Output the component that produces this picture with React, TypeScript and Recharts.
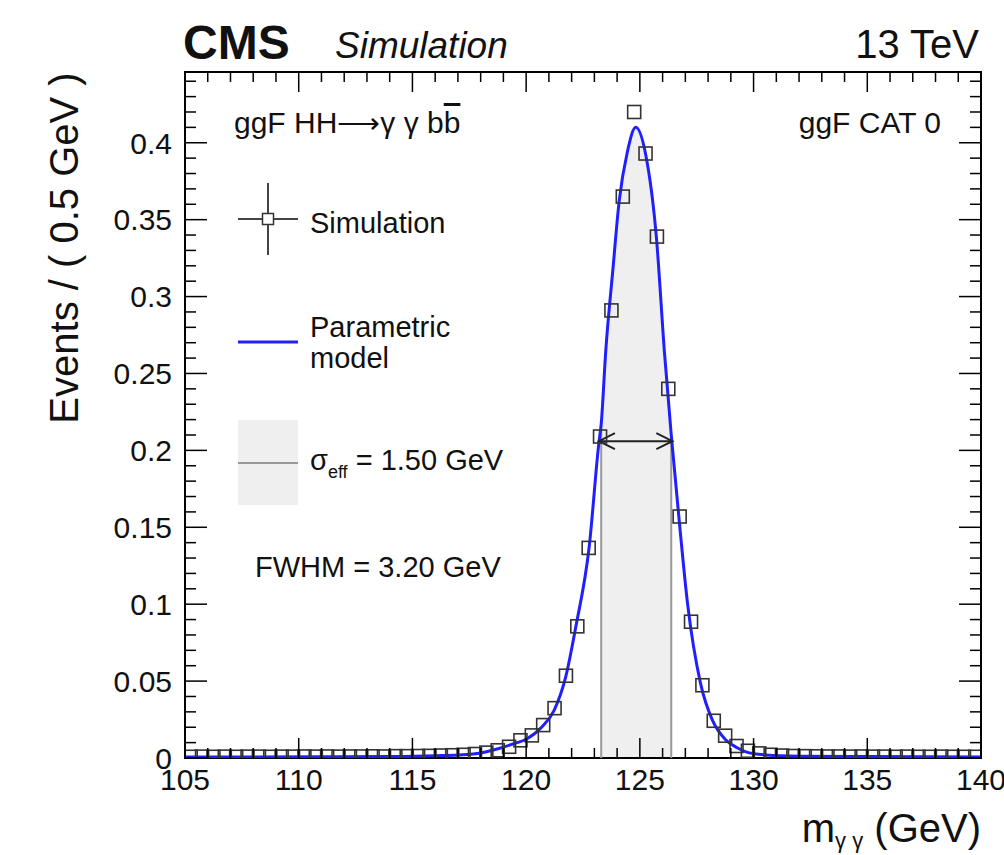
import {
  ComposedChart,
  Line,
  Area,
  Scatter,
  XAxis,
  YAxis,
  ReferenceLine,
  ReferenceArea,
} from "recharts";

const FONT = '"Liberation Sans", Arial, Helvetica, sans-serif';

// chart geometry
const W = 1004;
const H = 855;
const MARGIN = { top: 72, right: 23, bottom: 37, left: 105 };
const Y_AXIS_W = 80;
const X_AXIS_H = 60;
const PLOT_RIGHT = W - MARGIN.right;
const PLOT_TOP = MARGIN.top;

// axes
const X_DOMAIN = [105, 140];
const Y_DOMAIN = [0, 0.446];
const X_TICKS = Array.from({ length: 36 }, (_, i) => 105 + i);
const Y_TICKS = Array.from({ length: 45 }, (_, i) => i / 100);

// simulated events per 0.5 GeV bin
const BIN_LOW = 105;
const BIN_WIDTH = 0.5;
const simValues = [
  0.0008, 0.0009, 0.0008, 0.0009, 0.0008, 0.0009, 0.0009, 0.0008, 0.0009, 0.0009,
  0.001, 0.0009, 0.001, 0.0009, 0.001, 0.001, 0.0011, 0.001, 0.0012, 0.0012,
  0.0013, 0.0014, 0.0016, 0.0018, 0.0021, 0.0026, 0.0035, 0.005, 0.0073, 0.0115,
  0.0147, 0.0214, 0.0324, 0.0535, 0.0856, 0.1366, 0.209, 0.291, 0.365, 0.42,
  0.393, 0.339, 0.24, 0.157, 0.0886, 0.0473, 0.0242, 0.0145, 0.0078, 0.0047,
  0.003, 0.0021, 0.0016, 0.0013, 0.0012, 0.0011, 0.001, 0.001, 0.0009, 0.001,
  0.0009, 0.0009, 0.0008, 0.0009, 0.0008, 0.0008, 0.0009, 0.0008, 0.0008, 0.0008,
];

// parametric model, sampled from the drawn curve
const modelX = [
  105, 108, 111, 114, 116, 117, 118, 118.8, 119.5, 120, 120.7, 121.23, 121.74,
  122.18, 122.77, 123.2, 123.3, 123.5, 123.82, 124.09, 124.45, 124.82, 125.26,
  125.73, 126.08, 126.38, 126.72, 127.1, 127.67, 128.19, 128.78, 129.3, 129.66,
  130.54, 132, 135, 140,
];
const modelY = [
  0.0007, 0.0007, 0.0008, 0.001, 0.0015, 0.002, 0.0033, 0.0062, 0.0095, 0.0122,
  0.0203, 0.031, 0.0527, 0.085, 0.137, 0.205, 0.217, 0.2645, 0.3185, 0.362,
  0.394, 0.41, 0.392, 0.338, 0.264, 0.21, 0.156, 0.1, 0.0484, 0.0246, 0.0117,
  0.0065, 0.004, 0.002, 0.0012, 0.0009, 0.0007,
];

// sigma_eff band and FWHM arrow
const bandLow = 123.3;
const bandHigh = 126.38;
const fwhmLow = 123.2;
const fwhmHigh = 126.43;
const halfMax = 0.206;

const simData = simValues.map((y, i) => ({ x: BIN_LOW + BIN_WIDTH * (i + 0.5), y }));
const modelData = modelX.map((x, i) => ({ x, y: modelY[i] }));
const bandData = modelData.filter((d) => d.x >= bandLow && d.x <= bandHigh);
const bandLowY = modelData.find((d) => d.x === bandLow)!.y;
const bandHighY = modelData.find((d) => d.x === bandHigh)!.y;

const XTick = (props: any) => {
  const { x, y, payload } = props;
  const v = payload.value;
  const major = v % 5 === 0;
  const len = major ? 20 : 10;
  return (
    <g>
      <line x1={x} y1={y} x2={x} y2={y - len} stroke="#000" strokeWidth={1.5} />
      <line x1={x} y1={PLOT_TOP} x2={x} y2={PLOT_TOP + len} stroke="#000" strokeWidth={1.5} />
      {major && (
        <text x={x} y={y + 32} textAnchor="middle" fontSize={30} fontFamily={FONT} fill="#111">
          {v}
        </text>
      )}
    </g>
  );
};

const YTick = (props: any) => {
  const { x, y, payload } = props;
  const n = Math.round(payload.value * 100);
  const major = n % 5 === 0;
  const len = major ? 22 : 11;
  return (
    <g>
      <line x1={x} y1={y} x2={x + len} y2={y} stroke="#000" strokeWidth={1.5} />
      <line x1={PLOT_RIGHT} y1={y} x2={PLOT_RIGHT - len} y2={y} stroke="#000" strokeWidth={1.5} />
      {major && (
        <text x={x - 13} y={y} dy="0.36em" textAnchor="end" fontSize={30} fontFamily={FONT} fill="#111">
          {String(n / 100)}
        </text>
      )}
    </g>
  );
};

const SquareMarker = (props: any) => {
  const { cx, cy } = props;
  return (
    <rect x={cx - 6.5} y={cy - 6.5} width={13} height={13} fill="none" stroke="#333" strokeWidth={1.6} />
  );
};

const ArrowShape = (p: any) => {
  const { x1, y1, x2, y2 } = p;
  const h = 16;
  const w = 8;
  return (
    <g stroke="#222" strokeWidth={2} fill="none">
      <line x1={x1} y1={y1} x2={x2} y2={y2} />
      <polyline points={`${x1 + h},${y1 - w} ${x1},${y1} ${x1 + h},${y1 + w}`} />
      <polyline points={`${x2 - h},${y2 - w} ${x2},${y2} ${x2 - h},${y2 + w}`} />
    </g>
  );
};

function Overlay() {
  const t = { fontFamily: FONT, fill: "#111" };
  return (
    <svg
      width={W}
      height={H}
      style={{ position: "absolute", left: 0, top: 0, pointerEvents: "none" }}
    >
      {/* header */}
      <text x={183} y={59} fontSize={48} fontWeight="bold" {...t}>CMS</text>
      <text x={335} y={58} fontSize={37} fontStyle="italic" {...t}>Simulation</text>
      <text x={979} y={58} fontSize={40} textAnchor="end" {...t}>13 TeV</text>

      {/* axis titles */}
      <text
        x={78}
        y={248}
        fontSize={40}
        textAnchor="middle"
        transform="rotate(-90 78 248)"
        {...t}
      >
        Events / ( 0.5 GeV )
      </text>
      <text x={981} y={842} fontSize={40} textAnchor="end" {...t}>
        m<tspan fontSize={22} dy={6}>γ γ</tspan>
        <tspan dy={-6}> (GeV)</tspan>
      </text>

      {/* labels in the frame */}
      <text x={234} y={133} fontSize={30} {...t}>
        ggF HH⟶γ γ b<tspan style={{ textDecoration: "overline" }}>b</tspan>
      </text>
      <text x={941} y={133} fontSize={30} textAnchor="end" {...t}>ggF CAT 0</text>

      {/* legend: simulation */}
      <line x1={268} y1={183} x2={268} y2={255} stroke="#444" strokeWidth={2} />
      <line x1={238} y1={219} x2={298} y2={219} stroke="#444" strokeWidth={2} />
      <rect x={262.5} y={213.5} width={11} height={11} fill="#fff" stroke="#333" strokeWidth={1.5} />
      <text x={310} y={233} fontSize={29} {...t}>Simulation</text>

      {/* legend: model */}
      <line x1={238} y1={342} x2={298} y2={342} stroke="#1f1fff" strokeWidth={3} />
      <text x={310} y={337} fontSize={29} {...t}>Parametric</text>
      <text x={310} y={368} fontSize={29} {...t}>model</text>

      {/* legend: sigma_eff */}
      <rect x={238} y={420} width={60} height={85} fill="#efefef" />
      <line x1={238} y1={463} x2={298} y2={463} stroke="#999" strokeWidth={2} />
      <text x={310} y={470} fontSize={29} {...t}>
        σ<tspan fontSize={18} dy={8}>eff</tspan>
        <tspan dy={-8}> = 1.50 GeV</tspan>
      </text>

      <text x={255} y={577} fontSize={29} {...t}>FWHM = 3.20 GeV</text>
    </svg>
  );
}

export default function App() {
  return (
    <div style={{ position: "absolute", left: 0, top: 0, width: W, height: H, background: "#fff" }}>
      <ComposedChart width={W} height={H} margin={MARGIN}>
        <XAxis
          type="number"
          dataKey="x"
          domain={X_DOMAIN}
          ticks={X_TICKS}
          interval={0}
          allowDataOverflow
          height={X_AXIS_H}
          tickSize={0}
          tickMargin={0}
          tickLine={false}
          axisLine={false}
          tick={<XTick />}
        />
        <YAxis
          type="number"
          dataKey="y"
          domain={Y_DOMAIN}
          ticks={Y_TICKS}
          interval={0}
          allowDataOverflow
          width={Y_AXIS_W}
          tickSize={0}
          tickMargin={0}
          tickLine={false}
          axisLine={false}
          tick={<YTick />}
        />
        <Area
          data={bandData}
          dataKey="y"
          type="monotone"
          fill="#efefef"
          fillOpacity={1}
          stroke="none"
          isAnimationActive={false}
        />
        <ReferenceLine
          segment={[{ x: bandLow, y: 0 }, { x: bandLow, y: bandLowY }]}
          stroke="#999"
          strokeWidth={2}
        />
        <ReferenceLine
          segment={[{ x: bandHigh, y: 0 }, { x: bandHigh, y: bandHighY }]}
          stroke="#999"
          strokeWidth={2}
        />
        <Scatter data={simData} dataKey="y" shape={<SquareMarker />} isAnimationActive={false} />
        <Line
          data={modelData}
          dataKey="y"
          type="monotone"
          stroke="#1f1fff"
          strokeWidth={3}
          dot={false}
          isAnimationActive={false}
        />
        <ReferenceLine
          segment={[{ x: fwhmLow, y: halfMax }, { x: fwhmHigh, y: halfMax }]}
          shape={ArrowShape}
        />
        <ReferenceArea
          x1={X_DOMAIN[0]}
          x2={X_DOMAIN[1]}
          y1={Y_DOMAIN[0]}
          y2={Y_DOMAIN[1]}
          fill="none"
          fillOpacity={0}
          stroke="#000"
          strokeWidth={2}
        />
      </ComposedChart>
      <Overlay />
    </div>
  );
}
